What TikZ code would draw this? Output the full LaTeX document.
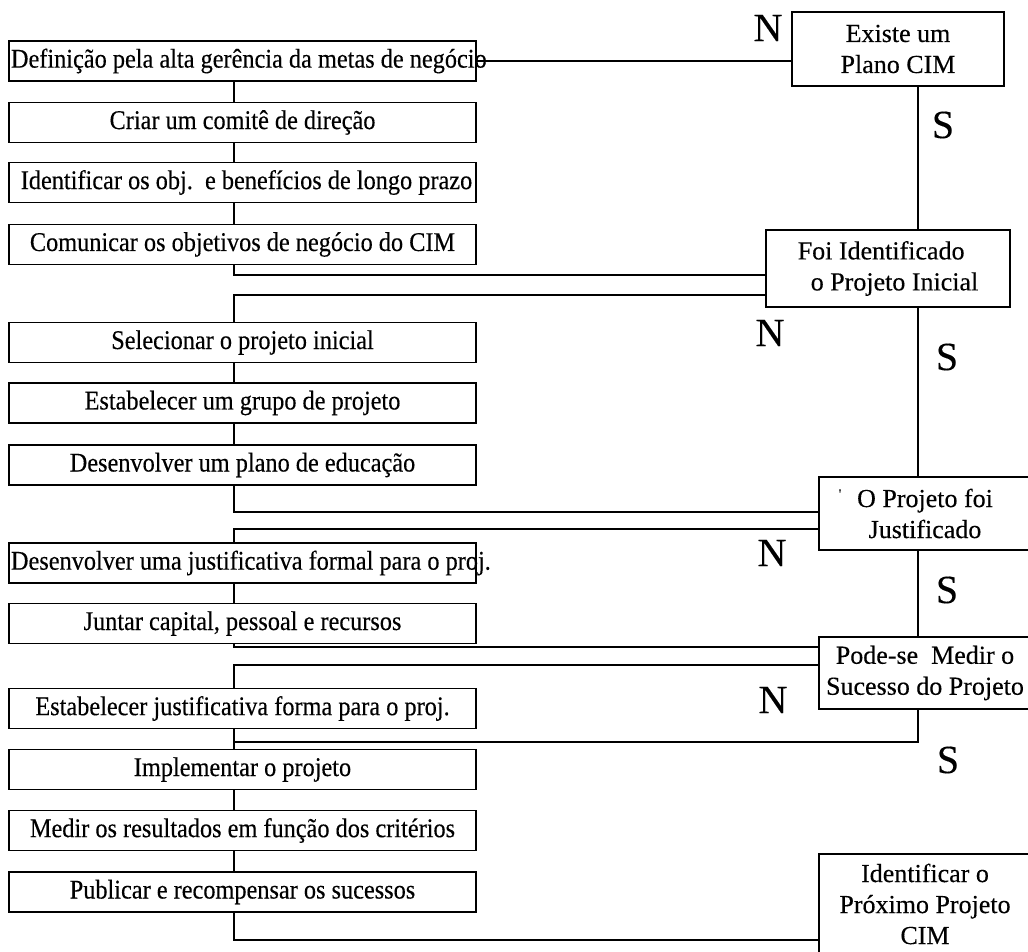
\documentclass[tikz,border=0pt]{standalone}
\usepackage{fontspec}
\setmainfont{Liberation Serif}[FakeBold=0.3]
\newfontfamily\stepfont{Liberation Serif}[FakeStretch=0.9,FakeBold=0.3]
\begin{document}
\begin{tikzpicture}[x=1pt,y=-1pt,
  line width=2pt,
  stepbox/.style={draw, line width=1.8pt, minimum width=467pt, minimum height=40pt,
    inner sep=0pt, font=\stepfont\fontsize{27}{29}\selectfont},
  askbox/.style={draw, line width=1.8pt, inner sep=0pt, align=center,
    font=\fontsize{26}{31}\selectfont},
  answer/.style={font=\fontsize{40}{40}\selectfont, inner sep=0pt}]
\useasboundingbox (0,0) rectangle (1028,951);
\clip (0,0) rectangle (1028,951);

% spines for the left column and the decision column
\coordinate (ls) at (234,0);
\coordinate (rs) at (918,0);

% action steps
\node[stepbox] (b1)  at (242.5,61)   {\makebox[465pt][l]{\hspace{1pt}Definição pela alta gerência da metas de negócio}};
\node[stepbox] (b2)  at (242.5,122.5) {Criar um comitê de direção};
\node[stepbox] (b3)  at (242.5,182.5) {\hspace{8pt}Identificar os obj.\ \ e benefícios de longo prazo};
\node[stepbox] (b4)  at (242.5,244.5) {Comunicar os objetivos de negócio do CIM};
\node[stepbox] (b5)  at (242.5,342.5) {Selecionar o projeto inicial};
\node[stepbox] (b6)  at (242.5,403)   {Estabelecer um grupo de projeto};
\node[stepbox] (b7)  at (242.5,465)   {Desenvolver um plano de educação};
\node[stepbox] (b8)  at (242.5,563)   {\makebox[465pt][l]{\hspace{1pt}Desenvolver uma justificativa formal para o proj.}};
\node[stepbox] (b9)  at (242.5,623.5) {Juntar capital, pessoal e recursos};
\node[stepbox] (b10) at (242.5,708.5) {Estabelecer justificativa forma para o proj.};
\node[stepbox] (b11) at (242.5,769.5) {Implementar o projeto};
\node[stepbox] (b12) at (242.5,830.5) {Medir os resultados em função dos critérios};
\node[stepbox] (b13) at (242.5,892)   {Publicar e recompensar os sucessos};

% decisions
\node[askbox, minimum width=212pt, minimum height=74pt] (d1) at (898,49)
  {Existe um\\Plano CIM};
\node[askbox, align=left, minimum width=244pt, minimum height=77pt] (d2) at (888,268.5)
  {Foi Identificado\\\hspace*{13pt}o Projeto Inicial};
\node[askbox, minimum width=212pt, minimum height=73pt] (d3) at (925,513.5)
  {O Projeto foi\\Justificado};
\node[askbox, minimum width=212pt, minimum height=72pt] (d4) at (925,673)
  {Pode-se\ \ Medir o\\Sucesso do Projeto};
\node[askbox, minimum width=212pt, minimum height=100pt] (d5) at (925,904)
  {Identificar o\\Próximo Projeto\\CIM};
\node[inner sep=0pt, font=\fontsize{14}{14}\selectfont] (tick) at (840,494) {\textquotesingle};

% answer labels
\node[answer] (n1) at (768,28)  {N};
\node[answer] (s1) at (943,125) {S};
\node[answer] (n2) at (770,333) {N};
\node[answer] (s2) at (947,357) {S};
\node[answer] (n3) at (772,553) {N};
\node[answer] (s3) at (947,590) {S};
\node[answer] (n4) at (773,700) {N};
\node[answer] (s4) at (948,760) {S};

% junction points on the connectors
\coordinate (j1) at (234,275);
\coordinate (j2) at (234,295);
\coordinate (j3) at (234,512);
\coordinate (j4) at (234,529);
\coordinate (j5) at (234,647);
\coordinate (j6) at (234,665);
\coordinate (j7) at (234,742);
\coordinate (j8) at (234,940);

% flow along the left column
\draw (b1.south -| ls) -- (b2.north -| ls);
\draw (b2.south -| ls) -- (b3.north -| ls);
\draw (b3.south -| ls) -- (b4.north -| ls);
\draw (b5.south -| ls) -- (b6.north -| ls);
\draw (b6.south -| ls) -- (b7.north -| ls);
\draw (b8.south -| ls) -- (b9.north -| ls);
\draw (b10.south -| ls) -- (j7) -- (b11.north -| ls);
\draw (b11.south -| ls) -- (b12.north -| ls);
\draw (b12.south -| ls) -- (b13.north -| ls);

% flow between the columns
\draw (b1.east) -- (b1.east -| d1.west);
\draw (d1.south -| rs) -- (d2.north -| rs);
\draw (d2.south -| rs) -- (d3.north -| rs);
\draw (d3.south -| rs) -- (d4.north -| rs);
\draw (b4.south -| ls) -- (j1) -- (j1 -| d2.west);
\draw (j2 -| d2.west) -- (j2) -- (b5.north -| ls);
\draw (b7.south -| ls) -- (j3) -- (j3 -| d3.west);
\draw (j4 -| d3.west) -- (j4) -- (b8.north -| ls);
\draw (b9.south -| ls) -- (j5) -- (j5 -| d4.west);
\draw (j6 -| d4.west) -- (j6) -- (b10.north -| ls);
\draw (d4.south -| rs) -- (j7 -| rs) -- (j7);
\draw (b13.south -| ls) -- (j8) -- (j8 -| d5.west);
\end{tikzpicture}
\end{document}
